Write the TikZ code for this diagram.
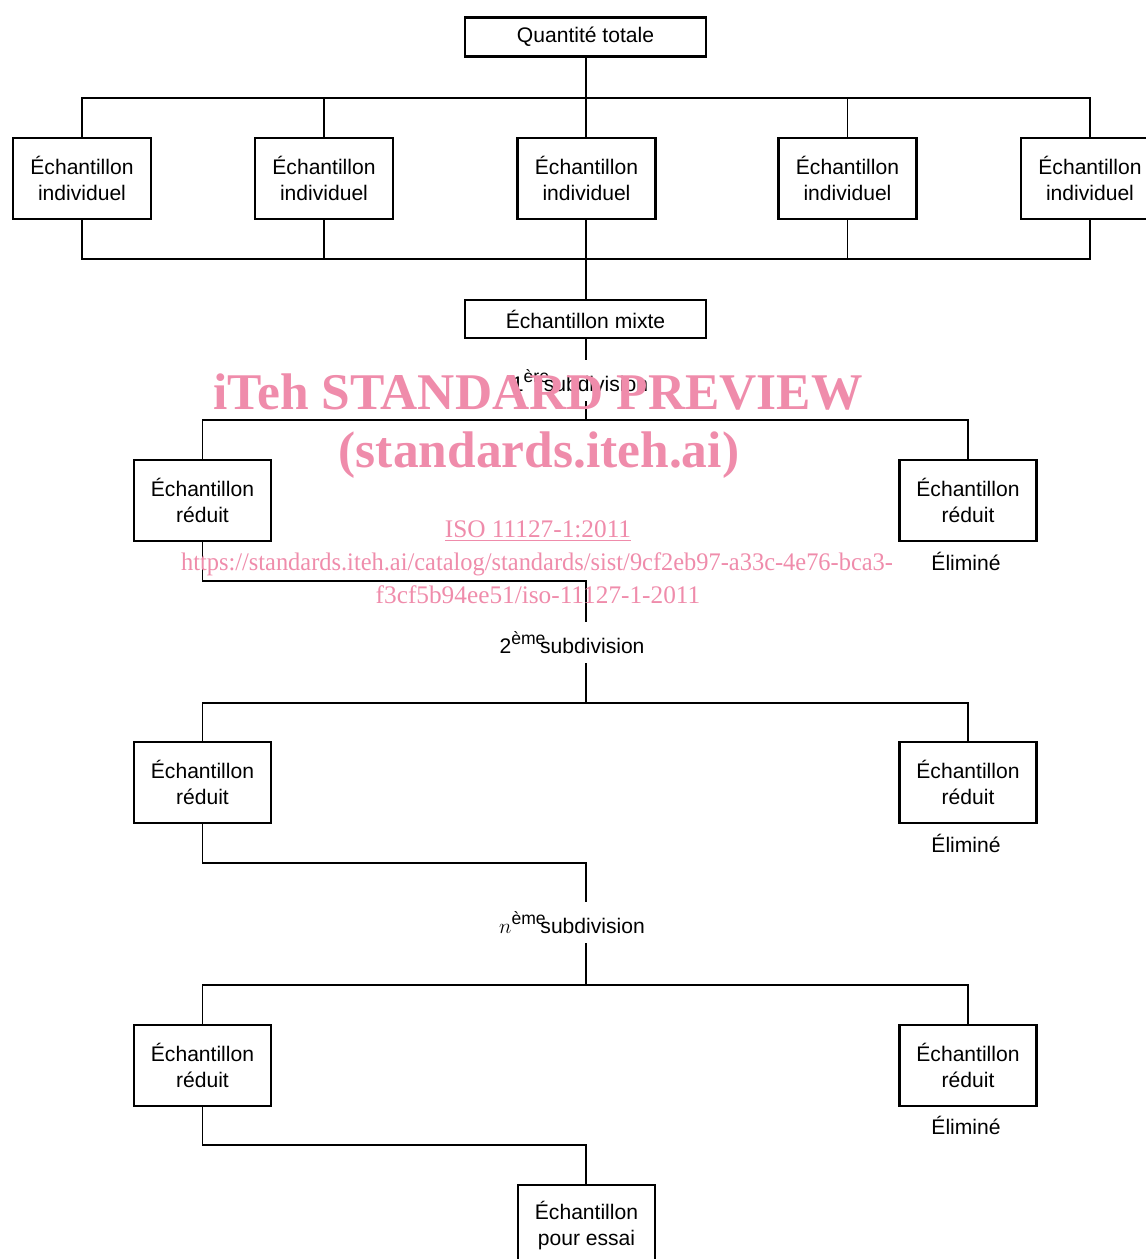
\documentclass[tikz,border=0pt]{standalone}
\usepackage{fontspec}
\setmainfont{Liberation Sans}
\newfontfamily\wmfont{Liberation Serif}
\newfontfamily\wmurlfont[FakeStretch=0.965]{Liberation Serif}
\definecolor{wmpink}{RGB}{239,140,171}

\begin{document}
\begin{tikzpicture}[x=0.02cm, y=-0.02cm,
    box/.style={draw, line width=1.5pt, align=center, inner sep=0pt, font=\fontsize{12}{15.3}\selectfont},
    indbox/.style={box, minimum width=2.76cm, minimum height=1.62cm},
    widebox/.style={box, minimum width=4.82cm, minimum height=0.78cm},
    lbl/.style={inner sep=0pt, font=\fontsize{12}{14}\selectfont},
    sublbl/.style={lbl, minimum height=0.82cm},
    wire/.style={line width=1.1pt},
    wm/.style={inner sep=0pt, text=wmpink}]
    \useasboundingbox (0,0) rectangle (1146,1259);

    % total quantity and individual samples
    \node[widebox] (qt) at (585.5,37) {Quantité totale};
    \foreach \x [count=\i] in {82,324,586.5,847.5,1090}
        \node[indbox] (ind\i) at (\x,178.5) {Échantillon\\individuel};
    \coordinate (top) at (586,98);
    \coordinate (bot) at (586,259);
    \draw[wire] (ind1.north) |- (top) -| (ind5.north);
    \draw[wire] (ind1.south) |- (bot) -| (ind5.south);
    \foreach \i in {2,4} {
        \draw[wire] (ind\i.north) -- (ind\i.north |- top);
        \draw[wire] (ind\i.south) -- (ind\i.south |- bot);
    }
    \draw[wire] (qt.south -| top) -- (ind3.north -| top);

    % composite sample
    \node[widebox, minimum height=0.76cm] (mix) at (585.5,319) {Échantillon mixte};
    \draw[wire] (ind3.south -| top) -- (mix.north -| top);

    % 1st subdivision
    \node[sublbl] (s1) at (580,380.5) {1\raisebox{5pt}{\fontsize{10}{10}\selectfont ère}\hspace{-3pt}subdivision};
    \coordinate (b1) at (586,420);
    \draw[wire] (mix.south -| b1) -- (s1.north -| b1);
    \draw[wire] (s1.south -| b1) -- (b1);
    \node[indbox, minimum width=2.74cm] (r1l) at (202.5,500.5) {Échantillon\\réduit};
    \node[indbox, minimum width=2.74cm] (r1r) at (968,500.5) {Échantillon\\réduit};
    \draw[wire] (r1l.north) |- (b1) -| (r1r.north);
    \node[lbl] (e1) at (966,561) {Éliminé};

    % 2nd subdivision
    \coordinate (j1) at (586,581);
    \node[sublbl] (s2) at (572,642.5) {2\raisebox{5pt}{\fontsize{10}{10}\selectfont ème}\hspace{-3pt}subdivision};
    \coordinate (b2) at (586,703);
    \draw[wire] (r1l.south) |- (j1) -- (s2.north -| j1);
    \draw[wire] (s2.south -| j1) -- (b2);
    \node[indbox, minimum width=2.74cm] (r2l) at (202.5,782.5) {Échantillon\\réduit};
    \node[indbox, minimum width=2.74cm] (r2r) at (968,782.5) {Échantillon\\réduit};
    \draw[wire] (r2l.north) |- (b2) -| (r2r.north);
    \node[lbl] (e2) at (966,843) {Éliminé};

    % n-th subdivision
    \coordinate (j2) at (586,863);
    \node[sublbl] (s3) at (572,922.5) {$n$\raisebox{5pt}{\fontsize{10}{10}\selectfont ème}\hspace{-3pt}subdivision};
    \coordinate (b3) at (586,985);
    \draw[wire] (r2l.south) |- (j2) -- (s3.north -| j2);
    \draw[wire] (s3.south -| j2) -- (b3);
    \node[indbox, minimum width=2.74cm] (r3l) at (202.5,1065.5) {Échantillon\\réduit};
    \node[indbox, minimum width=2.74cm] (r3r) at (968,1065.5) {Échantillon\\réduit};
    \draw[wire] (r3l.north) |- (b3) -| (r3r.north);
    \node[lbl] (e3) at (966,1125) {Éliminé};

    % test sample
    \coordinate (j3) at (586,1145);
    \node[indbox, minimum width=2.74cm] (test) at (586.5,1225.5) {Échantillon\\pour essai};
    \draw[wire] (r3l.south) |- (j3) -- (j3 |- test.north);

    % watermark
    \node[wm, font=\wmfont\bfseries\fontsize{29.3}{30}\selectfont] (wm1) at (538,392) {iTeh STANDARD PREVIEW};
    \node[wm, font=\wmfont\bfseries\fontsize{29.3}{30}\selectfont] (wm2) at (539,455) {(standards.iteh.ai)};
    \node[wm, font=\wmfont\fontsize{14.4}{16}\selectfont] (wm3) at (538,531) {\underline{ISO 11127-1:2011}};
    \node[wm, font=\wmurlfont\fontsize{14.4}{16}\selectfont] (wm4) at (537,564) {https://standards.iteh.ai/catalog/standards/sist/9cf2eb97-a33c-4e76-bca3-};
    \node[wm, font=\wmfont\fontsize{14.4}{16}\selectfont] (wm5) at (538,595) {f3cf5b94ee51/iso-11127-1-2011};
\end{tikzpicture}
\end{document}
